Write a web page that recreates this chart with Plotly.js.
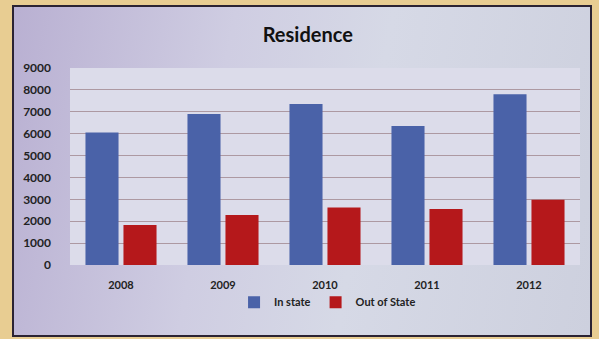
<!DOCTYPE html>
<html><head><meta charset="utf-8">
<script src="https://cdn.plot.ly/plotly-3.0.1.min.js"></script>
<style>
html,body{margin:0;padding:0;width:599px;height:339px;overflow:hidden;background:#e8cd92;}
#frame{position:absolute;left:12px;top:5px;width:576px;height:328px;border:2px solid #2b2333;
background:linear-gradient(100deg,#b9b0d2 0%,#cfcde2 35%,#d6d9e6 60%,#cdd0de 100%);}
#chart{width:576px;height:328px;}
</style></head>
<body>
<div id="frame"><div id="chart"></div></div>
<script>
const years = ['2008','2009','2010','2011','2012'];
const inState = [6050, 6900, 7350, 6350, 7800];
const outOfState = [1830, 2280, 2630, 2560, 2980];
const yTicks = [0,1000,2000,3000,4000,5000,6000,7000,8000,9000];

const font = 'Lato, "Open Sans", sans-serif';
const data = [
  {type:'bar', name:'In state', x:years, y:inState, marker:{color:'#4a62a8'}},
  {type:'bar', name:'Out of State', x:years, y:outOfState, marker:{color:'#b5181b'}}
];
const layout = {
  width:576, height:328,
  margin:{l:56, r:10, t:61, b:70},
  paper_bgcolor:'rgba(0,0,0,0)',
  plot_bgcolor:'#dcdcea',
  title:{text:'<b>Residence</b>', x:0.51, xanchor:'center', y:0.915, yanchor:'middle',
         font:{family:font, size:20, color:'#111'}},
  barmode:'group', bargap:0.255, bargroupgap:0.13,
  showlegend:true,
  legend:{orientation:'h', x:0.505, xanchor:'center', y:-0.115, yanchor:'top',
          font:{family:font, size:11, color:'#222', weight:'bold'}, itemwidth:30, traceorder:'normal'},
  xaxis:{type:'category', tickfont:{family:font, size:11, color:'#222', weight:'bold'},
         showgrid:false, zeroline:false, showline:false, ticks:'', ticklabelstandoff:12},
  yaxis:{range:[0,9000], tickvals:yTicks, ticktext:yTicks.map(String),
         tickfont:{family:font, size:12, color:'#222', weight:'bold'},
         showgrid:true, gridcolor:'#ad99a2', gridwidth:1, zeroline:false, showline:false,
         ticks:'', ticklabelstandoff:18}
};
Plotly.newPlot('chart', data, layout, {displayModeBar:false, staticPlot:true});
</script>
</body></html>
